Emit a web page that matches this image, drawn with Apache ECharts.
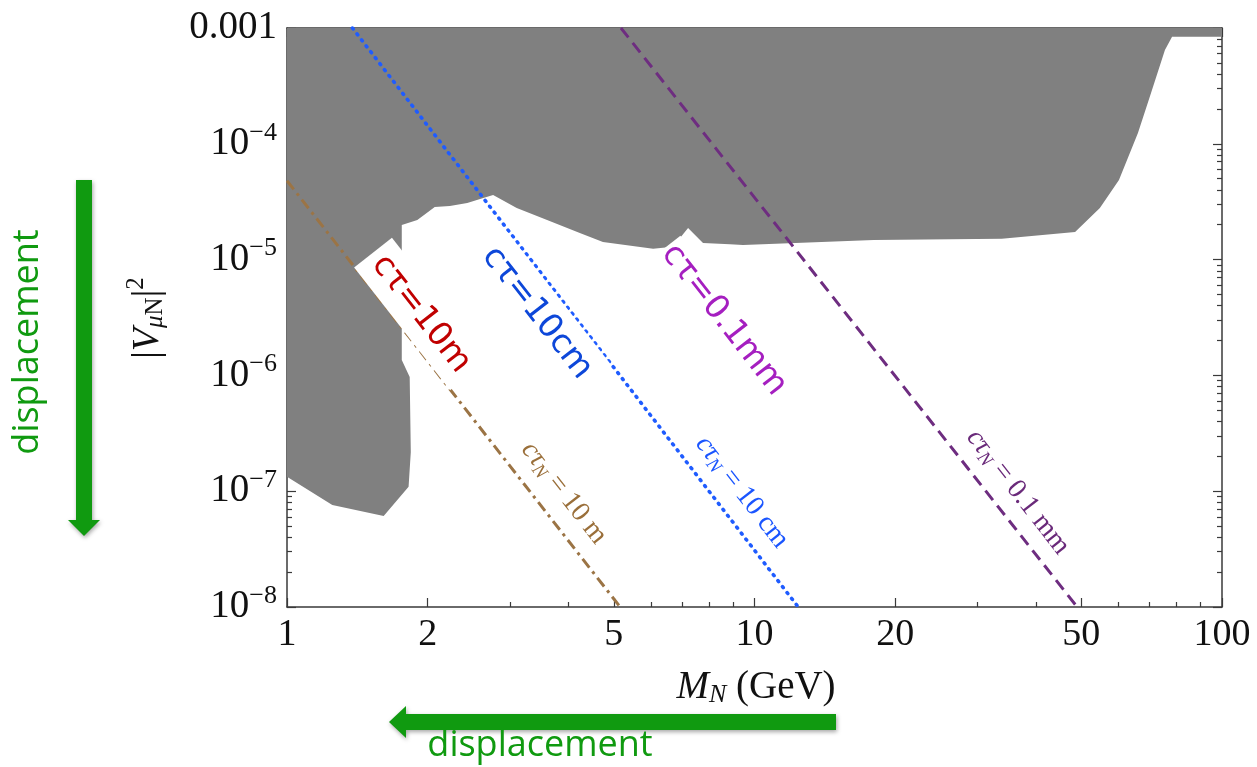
<!DOCTYPE html>
<html>
<head>
<meta charset="utf-8">
<script src="https://cdn.jsdelivr.net/npm/echarts@6/dist/echarts.min.js"></script>
<style>
  html, body { margin: 0; padding: 0; background: #ffffff; }
  #chart { width: 1257px; height: 767px; }
</style>
</head>
<body>
<div id="chart"></div>
<script>
// Excluded region boundary, heavy neutral lepton mass (GeV) vs |V_muN|^2, traced clockwise
const edgeMass   = [1, 100, 100, 88.4, 78.2, 75.5, 70.5, 66.1, 60.2, 54.8, 48.5, 33.8, 18.0, 9.45, 8.86, 7.76, 7.21, 6.69, 6.07, 4.74, 4.23, 3.60, 3.10, 2.76, 2.63, 2.43, 2.23, 2.07, 1.99, 1.90, 1.76, 1.76, 1.83, 1.84, 1.82, 1.61, 1.25, 1];
const edgeMixing = [1e-3, 1e-3, 8.4e-4, 8.4e-4, 8.4e-4, 6.45e-4, 2.75e-4, 1.24e-4, 4.86e-5, 2.79e-5, 1.73e-5, 1.51e-5, 1.48e-5, 1.34e-5, 1.36e-5, 1.39e-5, 1.87e-5, 1.29e-5, 1.24e-5, 1.42e-5, 1.70e-5, 2.20e-5, 2.79e-5, 3.61e-5, 3.40e-5, 3.08e-5, 2.90e-5, 2.85e-5, 2.53e-5, 2.20e-5, 1.99e-5, 1.36e-6, 9.7e-7, 2.18e-7, 1.09e-7, 6.1e-8, 7.6e-8, 1.33e-7];

// Constant decay-length contours: [mass, mixing] end points
const ctau10m   = [[1, 4.8e-5], [5.16, 1e-8]];
const ctau10cm  = [[1.38, 1e-3], [12.4, 1e-8]];
const ctau01mm  = [[5.18, 1e-3], [49.0, 1e-8]];

// Axis ticks
const massLabels   = [1, 2, 5, 10, 20, 50, 100];
const massMinor    = [3, 4, 6, 7, 8, 9, 30, 40, 60, 70, 80, 90];
const mixingLabels = [1e-8, 1e-7, 1e-6, 1e-5, 1e-4, 1e-3];
const mixingMinor  = [
  2e-8, 3e-8, 4e-8, 5e-8, 6e-8, 7e-8, 8e-8, 9e-8,
  2e-7, 3e-7, 4e-7, 5e-7, 6e-7, 7e-7, 8e-7, 9e-7,
  2e-6, 3e-6, 4e-6, 5e-6, 6e-6, 7e-6, 8e-6, 9e-6,
  2e-5, 3e-5, 4e-5, 5e-5, 6e-5, 7e-5, 8e-5, 9e-5,
  2e-4, 3e-4, 4e-4, 5e-4, 6e-4, 7e-4, 8e-4, 9e-4
];

const SERIF = '"Liberation Serif", "DejaVu Serif", serif';
const LABEL_SANS = '"DejaVu Sans", "Noto Sans", sans-serif';
const SANS = '"Open Sans", "Liberation Sans", sans-serif';
const FRAME = '#3a3a3a';
const GREEN = '#109a10';

const chart = echarts.init(document.getElementById('chart'), null, { renderer: 'canvas' });

function xAxisDef(position, ticks, len, withLabels, withLine) {
  return {
    type: 'log', logBase: 10, min: 1, max: 100, position: position,
    axisLine: { show: withLine, lineStyle: { color: FRAME, width: 1.5 } },
    axisTick: { show: true, inside: true, length: len, customValues: ticks, lineStyle: { color: FRAME, width: 1.2 } },
    axisLabel: withLabels ? {
      show: true, customValues: ticks, margin: 9,
      fontFamily: SERIF, fontSize: 38, color: '#111'
    } : { show: false },
    splitLine: { show: false }, minorTick: { show: false }
  };
}

function yAxisDef(position, ticks, len, withLabels, withLine) {
  return {
    type: 'log', logBase: 10, min: 1e-8, max: 1e-3, position: position,
    axisLine: { show: withLine, lineStyle: { color: FRAME, width: 1.5 } },
    axisTick: { show: true, inside: true, length: len, customValues: ticks, lineStyle: { color: FRAME, width: 1.2 } },
    axisLabel: withLabels ? {
      show: true, customValues: ticks, margin: 10,
      formatter: function (v) {
        const e = Math.round(Math.log10(v));
        if (e === -3) return '{b|0.001}';
        return '{b|10}{s|\u2212' + (-e) + '}';
      },
      rich: {
        b: { fontFamily: SERIF, fontSize: 39, color: '#111' },
        s: { fontFamily: SERIF, fontSize: 26, color: '#111', padding: [0, 0, 22, 0] }
      }
    } : { show: false },
    splitLine: { show: false }, minorTick: { show: false }
  };
}

function contour(data, color, dash, width, cap) {
  return {
    type: 'line', data: data, xAxisIndex: 0, yAxisIndex: 0,
    symbol: 'none', silent: true, z: 3, clip: true,
    lineStyle: { color: color, width: width, type: dash, cap: cap }
  };
}

function bigLabel(text, x, y, color, pad) {
  return {
    type: 'text', x: x, y: y, rotation: -52 * Math.PI / 180, z: 100,
    style: {
      text: text, fill: color, fontFamily: LABEL_SANS, fontSize: 33,
      align: 'center', verticalAlign: 'middle',
      backgroundColor: '#ffffff', padding: pad
    }
  };
}

function smallLabel(value, x, y, color) {
  return {
    type: 'text', x: x, y: y, rotation: -52 * Math.PI / 180, z: 100,
    style: {
      text: '{i|c\u03c4}{sub|N}{r| = ' + value + '}',
      align: 'center', verticalAlign: 'middle',
      rich: {
        i: { fill: color, fontFamily: SERIF, fontStyle: 'italic', fontSize: 28 },
        sub: { fill: color, fontFamily: SERIF, fontStyle: 'italic', fontSize: 19, padding: [13, 0, 0, 0] },
        r: { fill: color, fontFamily: SERIF, fontSize: 28 }
      }
    }
  };
}

const option = {
  backgroundColor: '#ffffff',
  animation: false,
  grid: { left: 287, top: 28, right: 35, bottom: 160, containLabel: false },
  xAxis: [
    xAxisDef('bottom', massLabels, 9, true, true),
    xAxisDef('bottom', massMinor, 5, false, false),
    xAxisDef('top', massLabels, 9, false, true),
    xAxisDef('top', massMinor, 5, false, false)
  ],
  yAxis: [
    yAxisDef('left', mixingLabels, 9, true, true),
    yAxisDef('left', mixingMinor, 5, false, false),
    yAxisDef('right', mixingLabels, 9, false, true),
    yAxisDef('right', mixingMinor, 5, false, false)
  ],
  series: [
    {
      type: 'custom', xAxisIndex: 0, yAxisIndex: 0, z: 1, silent: true, clip: true,
      data: [[edgeMass[0], edgeMixing[0]]],
      renderItem: function (params, api) {
        const pts = edgeMass.map(function (m, i) { return api.coord([m, edgeMixing[i]]); });
        return { type: 'polygon', shape: { points: pts }, style: { fill: '#808080' } };
      }
    },
    contour(ctau10m, '#9b7445', [11, 5, 3, 5], 3, 'butt'),
    contour(ctau10cm, '#1f5cff', [1.2, 6.3], 3.6, 'round'),
    contour(ctau01mm, '#6e2d80', [12, 7], 3, 'butt')
  ],
  graphic: [
    bigLabel('c\u03c4=10m', 421, 314, '#c00000', [12, 8, 3, 8]),
    bigLabel('c\u03c4=10cm', 537, 313, '#0d47d9', [17, 8, 3, 8]),
    bigLabel('c\u03c4=0.1mm', 724, 320, '#a51fc0', [1, 2, 1, 2]),
    smallLabel('10 m', 564, 493, '#9a6f3a'),
    smallLabel('10 cm', 742, 492, '#1a55ff'),
    smallLabel('0.1 mm', 1018, 492, '#6a2a7a'),
    // axis titles
    {
      type: 'text', x: 148, y: 318, rotation: Math.PI / 2, z: 100,
      style: {
        text: '{r||}{i|V}{sub|\u03bc}{subr|N}{r||}{sup|2}',
        align: 'center', verticalAlign: 'middle',
        rich: {
          r: { fill: '#111', fontFamily: SERIF, fontSize: 38 },
          i: { fill: '#111', fontFamily: SERIF, fontStyle: 'italic', fontSize: 38 },
          sub: { fill: '#111', fontFamily: SERIF, fontStyle: 'italic', fontSize: 25, padding: [14, 0, 0, 0] },
          subr: { fill: '#111', fontFamily: SERIF, fontSize: 25, padding: [14, 0, 0, 0] },
          sup: { fill: '#111', fontFamily: SERIF, fontSize: 25, padding: [0, 0, 24, 0] }
        }
      }
    },
    {
      type: 'text', x: 756, y: 688, z: 100,
      style: {
        text: '{i|M}{sub|N}{r| (GeV)}',
        align: 'center', verticalAlign: 'middle',
        rich: {
          i: { fill: '#111', fontFamily: SERIF, fontStyle: 'italic', fontSize: 39 },
          sub: { fill: '#111', fontFamily: SERIF, fontStyle: 'italic', fontSize: 26, padding: [15, 0, 0, 0] },
          r: { fill: '#111', fontFamily: SERIF, fontSize: 39 }
        }
      }
    },
    // displacement arrows
    {
      type: 'polygon', z: 100,
      shape: { points: [[76, 180], [92, 180], [92, 520], [100, 520], [84, 536], [68, 520], [76, 520]] },
      style: { fill: GREEN, shadowBlur: 4, shadowColor: 'rgba(0,0,0,0.35)', shadowOffsetX: 1, shadowOffsetY: 2 }
    },
    {
      type: 'text', x: 28, y: 342, rotation: Math.PI / 2, z: 100,
      style: { text: 'displacement', fill: GREEN, fontFamily: SANS, fontSize: 36, align: 'center', verticalAlign: 'middle' }
    },
    {
      type: 'polygon', z: 100,
      shape: { points: [[836, 714], [836, 730], [406, 730], [406, 738], [389, 722], [406, 706], [406, 714]] },
      style: { fill: GREEN, shadowBlur: 4, shadowColor: 'rgba(0,0,0,0.35)', shadowOffsetX: 1, shadowOffsetY: 2 }
    },
    {
      type: 'text', x: 540, y: 746, z: 100,
      style: { text: 'displacement', fill: GREEN, fontFamily: SANS, fontSize: 36, align: 'center', verticalAlign: 'middle' }
    }
  ]
};

chart.setOption(option);
</script>
</body>
</html>
